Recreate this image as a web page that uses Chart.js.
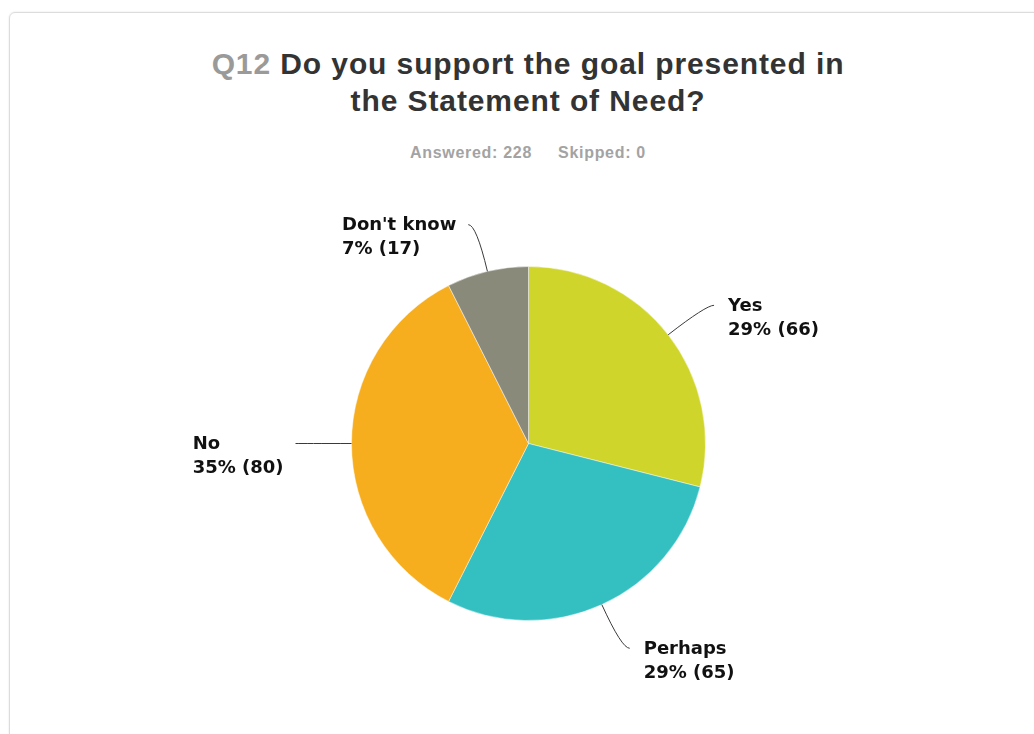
<!DOCTYPE html>
<html>
<head>
<meta charset="utf-8">
<script src="https://cdn.jsdelivr.net/npm/chart.js@4/dist/chart.umd.min.js"></script>
<style>
  html, body {
    margin: 0;
    padding: 0;
    width: 1034px;
    height: 734px;
    overflow: hidden;
    background: #fff;
  }
  .card {
    position: absolute;
    left: 9px;
    top: 12px;
    width: 1060px;
    height: 760px;
    border: 1px solid #dcdcdc;
    border-radius: 6px;
    box-shadow: 0 0 2px rgba(0, 0, 0, 0.12);
  }
  .title {
    position: absolute;
    left: 0;
    top: 45px;
    width: 1056px;
    text-align: center;
    font-family: "Liberation Sans", Arial, sans-serif;
    font-weight: bold;
    font-size: 30px;
    line-height: 37px;
    letter-spacing: 0.9px;
    color: #333;
  }
  .title .num {
    color: #9a9a9a;
  }
  .sub {
    position: absolute;
    left: 0;
    top: 144px;
    width: 1056px;
    text-align: center;
    font-family: "Liberation Sans", Arial, sans-serif;
    font-weight: bold;
    font-size: 16px;
    line-height: 18px;
    letter-spacing: 0.7px;
    color: #a3a3a3;
  }
  .sub span + span {
    margin-left: 26px;
  }
  #wrap {
    position: absolute;
    left: 0;
    top: 0;
    width: 1034px;
    height: 734px;
  }
</style>
</head>
<body>
<div class="card"></div>
<div class="title"><span class="num">Q12</span> Do you support the goal presented in<br>the Statement of Need?</div>
<div class="sub"><span>Answered: 228</span><span>Skipped: 0</span></div>
<div id="wrap"><canvas id="pie"></canvas></div>

<script>
const categories = ["Yes", "Perhaps", "No", "Don't know"];
const counts = [66, 65, 80, 17];
const colors = ["#CFD52A", "#34BFC1", "#F6AE1F", "#8A8A7B"];

// leader lines + two-line labels next to each slice
const sliceLabels = {
  id: "sliceLabels",
  afterDatasetsDraw(chart) {
    const ctx = chart.ctx;
    const meta = chart.getDatasetMeta(0);
    const values = chart.data.datasets[0].data;
    const total = values.reduce((a, b) => a + b, 0);

    ctx.save();
    ctx.font = "bold 18px 'DejaVu Sans'";
    ctx.strokeStyle = "#3a3a3a";
    ctx.lineWidth = 1;
    ctx.fillStyle = "#111";
    ctx.textBaseline = "middle";

    meta.data.forEach((arc, i) => {
      const { x, y, startAngle, endAngle, outerRadius } = arc.getProps(
        ["x", "y", "startAngle", "endAngle", "outerRadius"],
        true
      );
      const mid = (startAngle + endAngle) / 2;
      const cos = Math.cos(mid);
      const sin = Math.sin(mid);
      const right = cos >= -0.001;

      const sx = x + outerRadius * cos;
      const sy = y + outerRadius * sin;
      const ex0 = x + (outerRadius + 48) * cos;
      const ey = y + (outerRadius + 48) * sin;
      const ex = ex0 + (right ? 8 : -8);

      ctx.beginPath();
      ctx.moveTo(sx, sy);
      ctx.quadraticCurveTo(ex0, ey, ex, ey);
      ctx.stroke();

      const pct = Math.round((values[i] / total) * 100);
      const lines = [chart.data.labels[i], `${pct}% (${values[i]})`];
      const w = Math.max(...lines.map((t) => ctx.measureText(t).width));
      const tx = right ? ex + 14 : ex - 12 - w;

      ctx.textAlign = "left";
      lines.forEach((t, k) => {
        ctx.fillText(t, tx, ey + 1 + k * 24);
      });
    });
    ctx.restore();
  },
};

new Chart(document.getElementById("pie"), {
  type: "pie",
  data: {
    labels: categories,
    datasets: [
      {
        data: counts,
        backgroundColor: colors,
        borderColor: "rgba(255,255,255,0.45)",
        borderWidth: 1,
      },
    ],
  },
  options: {
    responsive: true,
    maintainAspectRatio: false,
    animation: false,
    radius: 177,
    layout: {
      padding: { left: 351, right: 328, top: 266, bottom: 113 },
    },
    plugins: {
      legend: { display: false },
      tooltip: { enabled: false },
    },
  },
  plugins: [sliceLabels],
});
</script>
</body>
</html>
